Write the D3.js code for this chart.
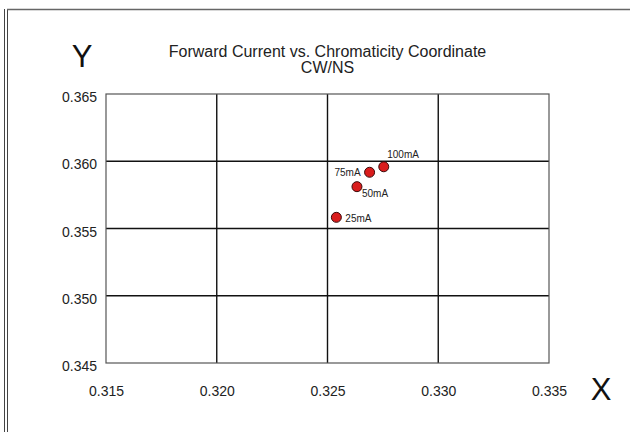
<!DOCTYPE html>
<html>
<head>
<meta charset="utf-8">
<script src="https://cdn.jsdelivr.net/npm/d3@7"></script>
<style>
  html, body { margin: 0; padding: 0; background: #fff; }
  svg { display: block; font-family: "Liberation Sans", Arial, sans-serif; }
</style>
</head>
<body>
<svg id="chart" width="630" height="432"></svg>
<script>
// Chromaticity coordinates at each forward current
const currents = ["25mA", "50mA", "75mA", "100mA"];
const xValues = [0.32540, 0.32633, 0.32690, 0.32754];
const yValues = [0.35583, 0.35811, 0.35918, 0.35959];

// Axis ticks
const xTicks = [0.315, 0.320, 0.325, 0.330, 0.335];
const yTicks = [0.345, 0.350, 0.355, 0.360, 0.365];

// Where each point label sits relative to its marker
const labelPlacement = {
  "25mA":  { dx: 9,   dy: 4.5, anchor: "start" },
  "50mA":  { dx: 5,   dy: 10.5, anchor: "start" },
  "75mA":  { dx: -9,  dy: 3.5, anchor: "end" },
  "100mA": { dx: 3.5, dy: -8.5, anchor: "start" }
};

const points = currents.map((c, i) => ({ label: c, x: xValues[i], y: yValues[i] }));

const svg = d3.select("#chart");
const plot = { left: 106, top: 94, right: 549, bottom: 363 };

const x = d3.scaleLinear().domain([xTicks[0], xTicks[xTicks.length - 1]]).range([plot.left, plot.right]);
const y = d3.scaleLinear().domain([yTicks[0], yTicks[yTicks.length - 1]]).range([plot.bottom, plot.top]);

// Outer frame (double rule on the left, single rule on top)
svg.append("line").attr("x1", 4.5).attr("x2", 4.5).attr("y1", 9).attr("y2", 432)
  .attr("stroke", "#444").attr("stroke-width", 1);
svg.append("line").attr("x1", 7.5).attr("x2", 7.5).attr("y1", 9).attr("y2", 432)
  .attr("stroke", "#444").attr("stroke-width", 1);
svg.append("line").attr("x1", 7).attr("x2", 630).attr("y1", 9.5).attr("y2", 9.5)
  .attr("stroke", "#666").attr("stroke-width", 1.3);

// Title
const title = svg.append("text").attr("text-anchor", "middle")
  .attr("font-size", 16).attr("fill", "#222");
title.append("tspan").attr("x", (plot.left + plot.right) / 2).attr("y", 56.5)
  .text("Forward Current vs. Chromaticity Coordinate");
title.append("tspan").attr("x", (plot.left + plot.right) / 2).attr("y", 72.5)
  .text("CW/NS");

// Axis letters
svg.append("text").attr("x", 82).attr("y", 67).attr("text-anchor", "middle")
  .attr("font-size", 31).attr("fill", "#111").text("Y");
svg.append("text").attr("x", 601).attr("y", 400).attr("text-anchor", "middle")
  .attr("font-size", 31).attr("fill", "#111").text("X");

// Grid lines
const grid = svg.append("g");
grid.selectAll("line.vx").data(xTicks.slice(1, -1)).join("line")
  .attr("x1", d => x(d)).attr("x2", d => x(d))
  .attr("y1", plot.top).attr("y2", plot.bottom)
  .attr("stroke", "#111").attr("stroke-width", 1.4);
grid.selectAll("line.hy").data(yTicks.slice(1, -1)).join("line")
  .attr("x1", plot.left).attr("x2", plot.right)
  .attr("y1", d => y(d)).attr("y2", d => y(d))
  .attr("stroke", "#111").attr("stroke-width", 1.4);

// Plot border
svg.append("rect")
  .attr("x", plot.left).attr("y", plot.top)
  .attr("width", plot.right - plot.left).attr("height", plot.bottom - plot.top)
  .attr("fill", "none").attr("stroke", "#555").attr("stroke-width", 1.2);

// Axes (labels only)
const fmt = d3.format(".3f");
const xAxis = svg.append("g").attr("transform", `translate(0,${plot.bottom})`)
  .call(d3.axisBottom(x).tickValues(xTicks).tickFormat(fmt).tickSize(0).tickPadding(26));
const yAxis = svg.append("g").attr("transform", `translate(${plot.left},0)`)
  .call(d3.axisLeft(y).tickValues(yTicks).tickFormat(fmt).tickSize(0).tickPadding(9));
[xAxis, yAxis].forEach(a => {
  a.select(".domain").remove();
  a.selectAll("text").attr("font-size", 14).attr("fill", "#222")
    .attr("font-family", "'Liberation Sans', Arial, sans-serif");
});
yAxis.selectAll("text").attr("dy", "0.55em");
xAxis.selectAll("text").attr("dy", "0.5em");

// Markers
svg.append("g").selectAll("circle").data(points).join("circle")
  .attr("cx", d => x(d.x)).attr("cy", d => y(d.y)).attr("r", 5)
  .attr("fill", "#d91c1c").attr("stroke", "#3a0a0a").attr("stroke-width", 1);

// Point labels
svg.append("g").selectAll("text").data(points).join("text")
  .attr("x", d => x(d.x) + labelPlacement[d.label].dx)
  .attr("y", d => y(d.y) + labelPlacement[d.label].dy)
  .attr("text-anchor", d => labelPlacement[d.label].anchor)
  .attr("font-size", 10).attr("fill", "#222")
  .text(d => d.label);
</script>
</body>
</html>
